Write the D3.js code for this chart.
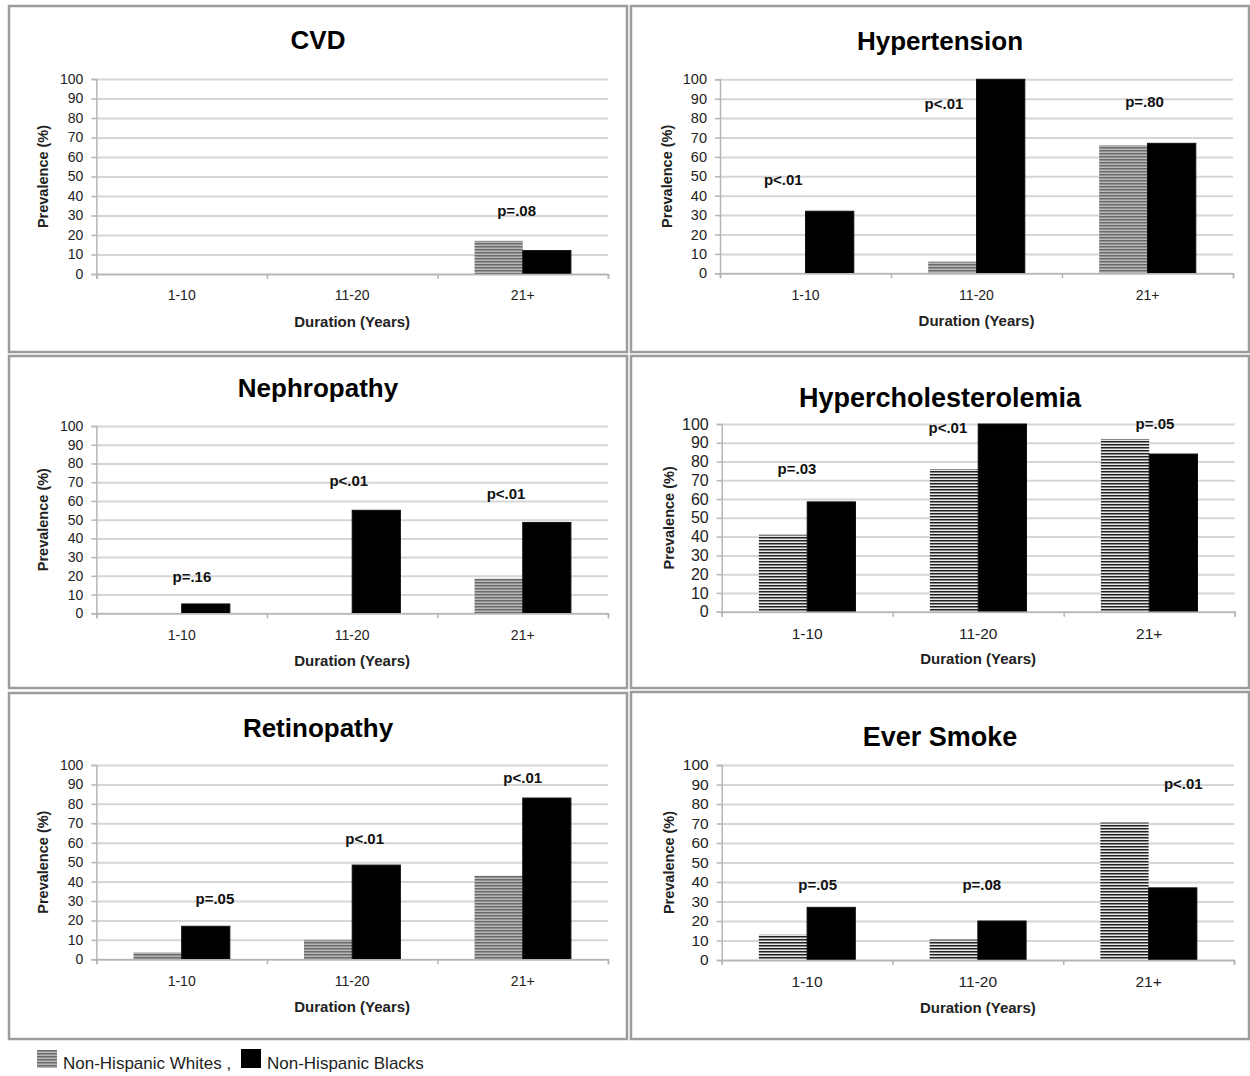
<!DOCTYPE html>
<html>
<head>
<meta charset="utf-8">
<script src="https://cdn.jsdelivr.net/npm/d3@7"></script>
<style>
  body { margin: 0; background: #fff; }
  svg { display: block; font-family: "Liberation Sans", Arial, sans-serif; }
</style>
</head>
<body>
<div id="chart"></div>
<script>
// data
const categories = ['1-10', '11-20', '21+']
const titles = ['CVD', 'Hypertension', 'Nephropathy', 'Hypercholesterolemia', 'Retinopathy', 'Ever Smoke']
const whites = [
  [0, 0, 17],
  [0, 6, 66],
  [0, 0, 18.5],
  [41, 76, 92],
  [3.5, 10, 43],
  [13, 10.5, 70.5]
]
const blacks = [
  [0, 0, 12],
  [32, 100, 67],
  [5, 55, 48.5],
  [58.5, 100, 84],
  [17, 48.5, 83],
  [27, 20, 37]
]
const pLabels = [
  [null, null, 'p=.08'],
  ['p<.01', 'p<.01', 'p=.80'],
  ['p=.16', 'p<.01', 'p<.01'],
  ['p=.03', 'p<.01', 'p=.05'],
  ['p=.05', 'p<.01', 'p<.01'],
  ['p=.05', 'p=.08', 'p<.01']
]
// where the p labels sit: value level (%) and shift from band centre (in bands)
const pLevel = [
  [0, 0, 32.8],
  [48.6, 87.3, 88.8],
  [19.9, 70.8, 64.1],
  [76.4, 98.2, 100.4],
  [31.4, 62.3, 93.5],
  [38.5, 38.5, 90.3]
]
const pShift = [
  [0, 0, -0.036],
  [-0.13, -0.19, -0.017],
  [0.06, -0.02, -0.098],
  [-0.06, -0.177, 0.034],
  [0.195, 0.073, 0],
  [0.062, 0.023, 0.203]
]
const yTicks = [0, 10, 20, 30, 40, 50, 60, 70, 80, 90, 100]
const seriesNames = ['Non-Hispanic Whites', 'Non-Hispanic Blacks']

/* layout of the six boxes */
const layout = [
  {box: [9, 6, 618, 346], plot: [96.4, 79, 608, 274], titleY: 40, titleFs: 26, tickFs: 14, catFs: 14, sharp: false},
  {box: [631, 6, 618, 346], plot: [720, 79.3, 1233, 273.3], titleY: 41, titleFs: 26, tickFs: 14.5, catFs: 14, sharp: false},
  {box: [9, 356, 618, 332], plot: [96.4, 426, 608, 613.3], titleY: 388, titleFs: 26, tickFs: 14, catFs: 14, sharp: false},
  {box: [631, 356, 618, 332], plot: [721.7, 424, 1234.7, 611.7], titleY: 398, titleFs: 27, tickFs: 16, catFs: 15.5, sharp: true},
  {box: [9, 693, 618, 346], plot: [96.4, 765, 608, 959.3], titleY: 728, titleFs: 26, tickFs: 14, catFs: 14, sharp: false},
  {box: [631, 692, 618, 347], plot: [721.7, 765, 1234, 960], titleY: 737, titleFs: 27, tickFs: 15.5, catFs: 15.5, sharp: true}
]

const w = 1250
const h = 1076

const svg = d3.select('#chart')
  .append('svg')
  .attr('width', w)
  .attr('height', h)

/* hatch patterns */
const defs = svg.append('defs')
const soft = defs.append('pattern')
  .attr('id', 'hatchSoft')
  .attr('patternUnits', 'userSpaceOnUse')
  .attr('width', 6).attr('height', 3)
soft.append('rect').attr('width', 6).attr('height', 3).attr('fill', '#b8b8b8')
soft.append('rect').attr('width', 6).attr('height', 1.5).attr('fill', '#6a6a6a')

const sharp = defs.append('pattern')
  .attr('id', 'hatchSharp')
  .attr('patternUnits', 'userSpaceOnUse')
  .attr('width', 6).attr('height', 3)
sharp.append('rect').attr('width', 6).attr('height', 3).attr('fill', '#e8e8e8')
sharp.append('rect').attr('width', 6).attr('height', 1.5).attr('fill', '#222')

layout.forEach((L, i) => {
  const g = svg.append('g').attr('class', 'panel')
  const [bx, by, bw, bh] = L.box
  const [left, top, right, bottom] = L.plot

  g.append('rect')
    .attr('x', bx).attr('y', by)
    .attr('width', bw).attr('height', bh)
    .attr('fill', 'none')
    .attr('stroke', '#9c9c9c')
    .attr('stroke-width', 2.5)

  /*Escalas*/
  const x = d3.scaleBand()
    .domain(categories)
    .range([left, right])
    .paddingInner(0.435)
    .paddingOuter(0.2175)

  const xSub = d3.scaleBand()
    .domain(seriesNames)
    .range([0, x.bandwidth()])

  const xEdge = d3.scaleLinear()
    .domain([0, categories.length])
    .range([left, right])

  const y = d3.scaleLinear()
    .domain([0, 100])
    .range([bottom, top])

  /*Grid*/
  g.append('g')
    .attr('class', 'grid')
    .attr('transform', `translate(${left},0)`)
    .call(d3.axisLeft(y).tickValues(yTicks).tickSize(-(right - left)).tickFormat(''))
    .call(s => s.select('.domain').remove())
    .call(s => s.selectAll('line').attr('stroke', '#d6d6d6').attr('stroke-width', 2))

  /*Eje y*/
  g.append('g')
    .attr('transform', `translate(${left},0)`)
    .call(d3.axisLeft(y).tickValues(yTicks).tickSize(5).tickPadding(8))
    .call(s => s.select('.domain').attr('stroke', '#b5b5b5').attr('stroke-width', 1.5))
    .call(s => s.selectAll('line').attr('stroke', '#b5b5b5').attr('stroke-width', 1.5))
    .call(s => s.selectAll('text')
      .attr('font-size', L.tickFs)
      .attr('font-family', '"Liberation Sans", Arial, sans-serif')
      .attr('fill', '#222'))

  /*Barras*/
  const rows = categories.map((c, k) => ({cat: c, vals: [whites[i][k], blacks[i][k]]}))
  const groups = g.append('g').selectAll('g')
    .data(rows)
    .enter()
    .append('g')
    .attr('transform', d => `translate(${x(d.cat)},0)`)

  groups.selectAll('rect')
    .data(d => d.vals.map((v, s) => ({v: v, s: seriesNames[s]})))
    .enter()
    .append('rect')
    .filter(d => d.v > 0)
    .attr('x', d => xSub(d.s))
    .attr('y', d => y(d.v))
    .attr('width', xSub.bandwidth())
    .attr('height', d => y(0) - y(d.v))
    .attr('fill', d => d.s === seriesNames[1] ? '#000' : (L.sharp ? 'url(#hatchSharp)' : 'url(#hatchSoft)'))
    .attr('stroke', d => d.s === seriesNames[1] ? '#111' : 'none')
    .attr('stroke-width', 1)

  /*Eje x*/
  g.append('g')
    .attr('transform', `translate(0,${bottom})`)
    .call(d3.axisBottom(xEdge).tickValues(d3.range(categories.length + 1)).tickSize(5).tickFormat(''))
    .call(s => s.select('.domain').attr('stroke', '#b5b5b5').attr('stroke-width', 1.5))
    .call(s => s.selectAll('line').attr('stroke', '#b5b5b5').attr('stroke-width', 1.5))

  g.append('g')
    .attr('transform', `translate(0,${bottom})`)
    .call(d3.axisBottom(x).tickSize(0).tickPadding(17 - L.catFs * 0.05))
    .call(s => s.select('.domain').remove())
    .call(s => s.selectAll('text')
      .attr('font-size', L.catFs)
      .attr('font-family', '"Liberation Sans", Arial, sans-serif')
      .attr('fill', '#222'))

  /*p values*/
  g.append('g').selectAll('text')
    .data(categories.map((c, k) => ({cat: c, label: pLabels[i][k], lv: pLevel[i][k], sh: pShift[i][k]}))
      .filter(d => d.label))
    .enter()
    .append('text')
    .attr('x', d => x(d.cat) + x.bandwidth() / 2 + d.sh * x.step())
    .attr('y', d => y(d.lv))
    .attr('text-anchor', 'middle')
    .attr('dominant-baseline', 'central')
    .attr('font-size', 15)
    .attr('font-weight', 'bold')
    .attr('fill', '#111')
    .text(d => d.label)

  /*Títulos*/
  g.append('text')
    .attr('x', bx + bw / 2)
    .attr('y', L.titleY)
    .attr('text-anchor', 'middle')
    .attr('dominant-baseline', 'central')
    .attr('font-size', L.titleFs)
    .attr('font-weight', 'bold')
    .attr('fill', '#000')
    .text(titles[i])

  g.append('text')
    .attr('x', (left + right) / 2)
    .attr('y', bottom + 47)
    .attr('text-anchor', 'middle')
    .attr('dominant-baseline', 'central')
    .attr('font-size', 15)
    .attr('font-weight', 'bold')
    .attr('fill', '#222')
    .text('Duration (Years)')

  g.append('text')
    .attr('transform', `translate(${left - 53},${(top + bottom) / 2}) rotate(-90)`)
    .attr('text-anchor', 'middle')
    .attr('dominant-baseline', 'central')
    .attr('font-size', 14.5)
    .attr('font-weight', 'bold')
    .attr('fill', '#222')
    .text('Prevalence (%)')
})

/*Legend*/
const legend = svg.append('g').attr('id', 'legend')
legend.append('rect')
  .attr('x', 37).attr('y', 1050).attr('width', 20).attr('height', 18)
  .attr('fill', 'url(#hatchSoft)')
legend.append('text')
  .attr('x', 63).attr('y', 1069)
  .attr('font-size', 17).attr('fill', '#222')
  .text(seriesNames[0] + ' ,')
legend.append('rect')
  .attr('x', 241).attr('y', 1049).attr('width', 20).attr('height', 19)
  .attr('fill', '#000')
legend.append('text')
  .attr('x', 267).attr('y', 1069)
  .attr('font-size', 17).attr('fill', '#222')
  .text(seriesNames[1])
</script>
</body>
</html>
